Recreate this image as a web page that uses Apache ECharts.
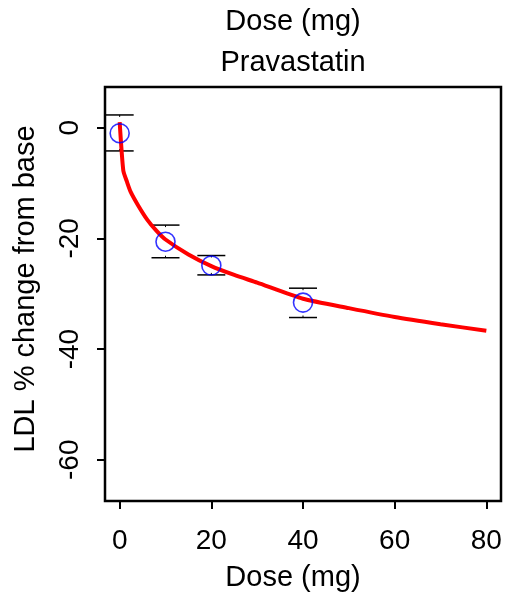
<!DOCTYPE html>
<html>
<head>
<meta charset="utf-8">
<script src="https://cdn.jsdelivr.net/npm/echarts@6/dist/echarts.min.js"></script>
<style>html,body{margin:0;padding:0;background:#fff;}#c{width:505px;height:599px;}</style>
</head>
<body>
<div id="c"></div>
<script>
// Observed data (mean and error bar limits)
const doses = [0, 10, 20, 40];
const means = [-1.0, -20.6, -24.9, -31.6];
const lowers = [-4.2, -23.5, -26.6, -34.3];
const uppers = [2.3, -17.6, -23.1, -29.0];
// Fitted curve
const curveDose = [0, 0.8, 1.6, 2.4, 4, 6, 8, 10, 15, 20, 25, 30, 40, 50, 60, 70, 80];
const curveY = [1.0, -7.8, -9.8, -11.6, -14.0, -16.6, -18.6, -20.2, -22.9, -25.0, -26.6, -28.0, -30.9, -32.6, -34.2, -35.5, -36.7];
// Ticks
const xTicks = [0, 20, 40, 60, 80];
const yTicks = [0, -20, -40, -60];
const titleTop = 'Dose (mg)';
const titleSub = 'Pravastatin';
const xTitle = 'Dose (mg)';
const yTitle = 'LDL % change from base';

const FONT = "'Liberation Sans', Arial, sans-serif";
const FS = 29;

const chart = echarts.init(document.getElementById('c'), null, {renderer: 'canvas'});
const option = {
  animation: false,
  backgroundColor: '#fff',
  grid: {left: 105, right: 4, top: 87, bottom: 98, show: true, borderColor: '#000', borderWidth: 2.5, backgroundColor: 'transparent'},
  xAxis: {
    type: 'value', min: -3.2, max: 83.2,
    axisLine: {show: false, onZero: false},
    splitLine: {show: false},
    axisTick: {show: true, customValues: xTicks, length: 8, lineStyle: {color: '#000', width: 2}},
    axisLabel: {customValues: xTicks, fontSize: 28, fontFamily: FONT, color: '#000', margin: 26}
  },
  yAxis: {
    type: 'value', min: -67.45, max: 7.35,
    axisLine: {show: false, onZero: false},
    splitLine: {show: false},
    axisTick: {show: true, customValues: yTicks, length: 8, lineStyle: {color: '#000', width: 2}},
    axisLabel: {customValues: yTicks, fontSize: 28, fontFamily: FONT, color: '#000', rotate: 90, margin: 21}
  },
  graphic: [
    {type: 'text', x: 293, y: 22, style: {text: titleTop, font: FS + 'px ' + FONT, fill: '#000', textAlign: 'center', textVerticalAlign: 'middle'}},
    {type: 'text', x: 293, y: 63, style: {text: titleSub, font: FS + 'px ' + FONT, fill: '#000', textAlign: 'center', textVerticalAlign: 'middle'}},
    {type: 'text', x: 293, y: 578, style: {text: xTitle, font: FS + 'px ' + FONT, fill: '#000', textAlign: 'center', textVerticalAlign: 'middle'}},
    {type: 'text', x: 26, y: 289, rotation: Math.PI / 2, style: {text: yTitle, font: FS + 'px ' + FONT, fill: '#000', textAlign: 'center', textVerticalAlign: 'middle'}}
  ],
  series: [
    {
      type: 'custom',
      z: 1,
      data: doses.map((d, i) => [d, lowers[i], uppers[i]]),
      renderItem: function (params, api) {
        const x = api.value(0);
        const pHi = api.coord([x, api.value(2)]);
        const pLo = api.coord([x, api.value(1)]);
        const hw = 14;
        const st = {stroke: '#000', lineWidth: 1.5};
        return {
          type: 'group',
          children: [
            {type: 'line', shape: {x1: pHi[0] - hw, y1: pHi[1], x2: pHi[0] + hw, y2: pHi[1]}, style: st},
            {type: 'line', shape: {x1: pLo[0] - hw, y1: pLo[1], x2: pLo[0] + hw, y2: pLo[1]}, style: st},
            {type: 'line', shape: {x1: pHi[0], y1: pHi[1], x2: pHi[0], y2: pHi[1] + 2}, style: {stroke: '#000', lineWidth: 1}},
            {type: 'line', shape: {x1: pLo[0], y1: pLo[1], x2: pLo[0], y2: pLo[1] - 2}, style: {stroke: '#000', lineWidth: 1}}
          ]
        };
      }
    },
    {
      type: 'line',
      z: 2,
      data: curveDose.map((d, i) => [d, curveY[i]]),
      showSymbol: false,
      smooth: 0.2,
      lineStyle: {color: '#FF0000', width: 4}
    },
    {
      type: 'scatter',
      z: 3,
      data: doses.map((d, i) => [d, means[i]]),
      symbol: 'circle',
      symbolSize: 19,
      itemStyle: {color: 'rgba(0,0,0,0)', borderColor: '#0000FF', borderWidth: 1.6}
    }
  ]
};
chart.setOption(option);
</script>
</body>
</html>
